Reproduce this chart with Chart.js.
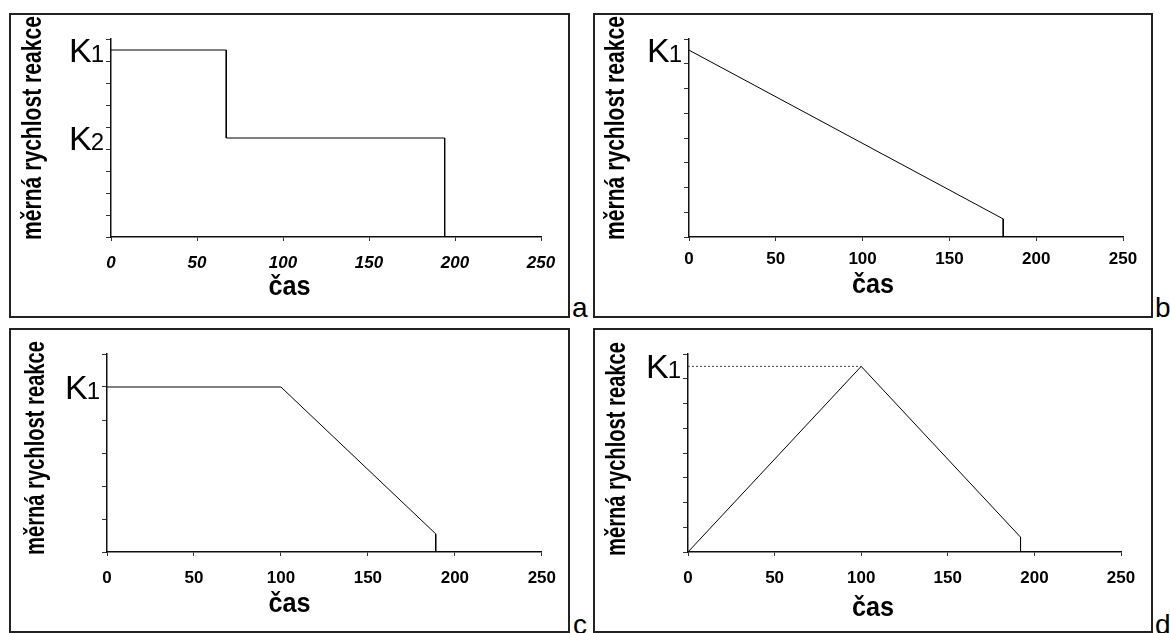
<!DOCTYPE html>
<html>
<head>
<meta charset="utf-8">
<script src="https://cdn.jsdelivr.net/npm/chart.js@4.4.1/dist/chart.umd.min.js"></script>
<style>
body { margin:0; width:1170px; height:633px; background:#fff; overflow:hidden; position:relative; font-family:"Liberation Sans", Arial, sans-serif; }
.panel { position:absolute; border:2px solid #222; box-sizing:border-box; background:#fff; }
.panel canvas { display:block; }
.tag { position:absolute; font-size:28px; line-height:1; color:#000; }
</style>
</head>
<body>
<div class="panel" style="left:9px;top:13px;width:561px;height:305px"><canvas id="ca" width="557" height="301"></canvas></div>
<div class="panel" style="left:593px;top:13px;width:560px;height:305px"><canvas id="cb" width="556" height="301"></canvas></div>
<div class="panel" style="left:9px;top:328px;width:561px;height:305px"><canvas id="cc" width="557" height="301"></canvas></div>
<div class="panel" style="left:593px;top:328px;width:560px;height:305px"><canvas id="cd" width="556" height="301"></canvas></div>
<span class="tag" style="left:572px;top:294px">a</span>
<span class="tag" style="left:1155px;top:294px">b</span>
<span class="tag" style="left:573px;top:611px">c</span>
<span class="tag" style="left:1155px;top:611px">d</span>
<script>
// popisky
const yTitle = 'měrná rychlost reakce';
const xTitle = 'čas';
const xTickValues = [0, 50, 100, 150, 200, 250];

// a) dva stupne
const aTime = [0, 67, 67, 194, 194, 250];
const aRate = [8.5, 8.5, 4.5, 4.5, 0, 0];
const aLevels = [8.5, 4.5];
const aNames = ['1', '2'];

// b) linearni pokles
const bTime = [0, 181, 181, 250];
const bRate = [7.55, 0.73, 0, 0];
const bLevels = [7.55];
const bNames = ['1'];

// c) konstanta, pak pokles
const cTime = [0, 100, 189, 189, 250];
const cRate = [5, 5, 0.55, 0, 0];
const cLevels = [5];
const cNames = ['1'];

// d) narust a pokles
const dTime = [0, 100, 192, 192, 250];
const dRate = [0, 7.5, 0.6, 0, 0];
const dGuideTime = [0, 100];
const dGuideRate = [7.5, 7.5];
const dLevels = [7.5];
const dNames = ['1'];

const FONT = '"Liberation Sans", Arial, sans-serif';

function pts(xs, ys) {
    return xs.map((x, i) => ({ x: x, y: ys[i] }));
}

const panelText = {
    id: 'panelText',
    afterDraw(chart) {
        const o = chart.options.plugins.panelText;
        const ctx = chart.ctx;
        const ys = chart.scales.y;
        const area = chart.chartArea;
        ctx.save();
        ctx.fillStyle = '#000';

        // y title, a bit condensed like the original
        ctx.save();
        ctx.translate(o.yTitleX, o.yTitleY);
        ctx.rotate(-Math.PI / 2);
        ctx.font = 'bold 28px ' + FONT;
        const w = ctx.measureText(yTitle).width;
        ctx.scale(o.yTitleLen / w, 1);
        ctx.textAlign = 'center';
        ctx.textBaseline = 'middle';
        ctx.fillText(yTitle, 0, 0);
        ctx.restore();

        // x title
        ctx.save();
        ctx.font = 'bold 28px ' + FONT;
        ctx.translate(chart.width / 2, o.xTitleY);
        ctx.scale(0.9, 1);
        ctx.textAlign = 'center';
        ctx.textBaseline = 'middle';
        ctx.fillText(xTitle, 0, 0);
        ctx.restore();

        // K labels
        ctx.textAlign = 'right';
        ctx.textBaseline = 'alphabetic';
        o.levels.forEach((lv, i) => {
            const py = ys.getPixelForValue(lv) + 12;
            let right = area.left - 7;
            ctx.font = '24px ' + FONT;
            const subW = ctx.measureText(o.names[i]).width;
            ctx.fillText(o.names[i], right, py);
            ctx.font = '34px ' + FONT;
            ctx.fillText('K', right - subW + 1, py);
        });
        ctx.restore();
    }
};

function makeChart(id, sets, cfg) {
    new Chart(document.getElementById(id), {
        type: 'line',
        data: {
            datasets: sets.map(s => ({
                data: s.data,
                borderColor: s.color || '#000',
                borderWidth: 1,
                borderDash: s.dash || [],
                pointRadius: 0,
                tension: 0,
                fill: false
            }))
        },
        options: {
            responsive: false,
            animation: false,
            events: [],
            layout: { padding: { left: 0, top: 24, right: cfg.padRight, bottom: 0 } },
            plugins: {
                legend: { display: false },
                tooltip: { enabled: false },
                panelText: {
                    yTitleX: cfg.yTitleX,
                    yTitleY: cfg.yTitleY,
                    yTitleLen: cfg.yTitleLen,
                    xTitleY: cfg.xTitleY,
                    levels: cfg.levels,
                    names: cfg.names
                }
            },
            scales: {
                x: {
                    type: 'linear',
                    min: 0,
                    max: 250,
                    afterBuildTicks(s) { s.ticks = xTickValues.map(v => ({ value: v })); },
                    ticks: {
                        color: '#000',
                        padding: cfg.tickPad,
                        maxRotation: 0,
                        autoSkip: false,
                        font: { family: FONT, size: 17, weight: 'bold', style: cfg.italic ? 'italic' : 'normal' }
                    },
                    grid: { drawOnChartArea: false, tickLength: 4, color: '#333' },
                    border: { color: '#111', width: 1.5 },
                    afterFit(s) { s.height = 79; }
                },
                y: {
                    min: 0,
                    max: cfg.yMax,
                    ticks: { display: false, stepSize: 1 },
                    grid: { drawOnChartArea: false, tickLength: 5, color: '#333' },
                    border: { color: '#111', width: 1.5 },
                    afterFit(s) { s.width = cfg.plotLeft; }
                }
            }
        },
        plugins: [panelText]
    });
}

makeChart('ca', [{ data: pts(aTime, aRate) }], {
    plotLeft: 100, padRight: 27, yMax: 9, italic: true, tickPad: 12,
    yTitleX: 22, yTitleY: 113, yTitleLen: 224, xTitleY: 272,
    levels: aLevels, names: aNames
});
makeChart('cb', [{ data: pts(bTime, bRate) }], {
    plotLeft: 94, padRight: 28, yMax: 8, italic: false, tickPad: 8,
    yTitleX: 21, yTitleY: 113, yTitleLen: 224, xTitleY: 270,
    levels: bLevels, names: bNames
});
makeChart('cc', [{ data: pts(cTime, cRate) }], {
    plotLeft: 96, padRight: 26, yMax: 6, italic: false, tickPad: 12,
    yTitleX: 25, yTitleY: 118, yTitleLen: 214, xTitleY: 274,
    levels: cLevels, names: cNames
});
makeChart('cd', [
    { data: pts(dTime, dRate) },
    { data: pts(dGuideTime, dGuideRate), dash: [2, 2], color: '#444' }
], {
    plotLeft: 93, padRight: 30, yMax: 8, italic: false, tickPad: 12,
    yTitleX: 22, yTitleY: 119, yTitleLen: 214, xTitleY: 278,
    levels: dLevels, names: dNames
});
</script>
</body>
</html>
